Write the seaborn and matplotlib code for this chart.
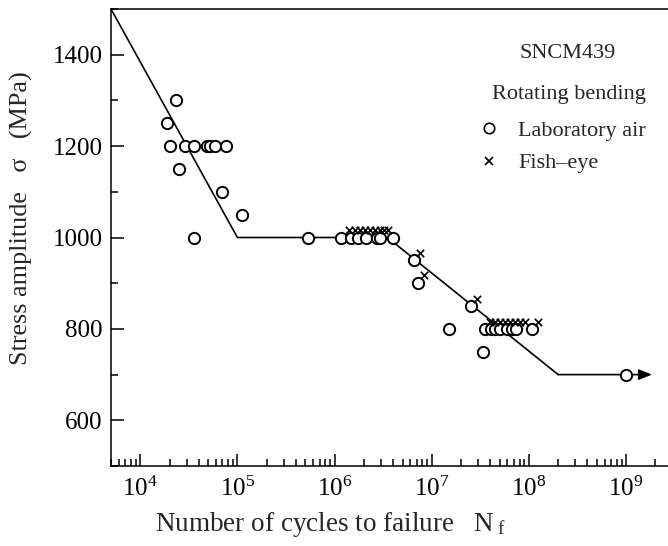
import numpy as np
import pandas as pd
import matplotlib
matplotlib.use("Agg")
import matplotlib.pyplot as plt
import seaborn as sns
from matplotlib.ticker import LogLocator, MultipleLocator, LogFormatterMathtext, NullFormatter
from matplotlib.lines import Line2D

sns.set_theme(style="ticks")
plt.rcParams["font.family"] = ["Liberation Serif", "DejaVu Serif"]
plt.rcParams["mathtext.fontset"] = "custom"
plt.rcParams["mathtext.rm"] = "Liberation Serif"
plt.rcParams["mathtext.it"] = "Liberation Serif:italic"
plt.rcParams["mathtext.bf"] = "Liberation Serif:bold"

# ---- data ----
air_cycles = [1.87e4, 2.35e4, 2.0e4, 2.9e4, 3.6e4, 4.85e4, 5.25e4, 5.9e4, 7.7e4,
              2.52e4, 6.9e4, 1.11e5, 3.6e4,
              5.3e5, 1.17e6, 1.47e6, 1.74e6, 2.11e6, 2.74e6, 2.94e6, 4.01e6,
              6.64e6, 7.3e6, 2.54e7, 1.51e7, 3.4e7,
              3.54e7, 4.08e7, 4.49e7, 5.06e7, 5.97e7, 6.72e7, 7.38e7, 1.08e8,
              1.0e9]
air_stress = [1250, 1300, 1200, 1200, 1200, 1200, 1200, 1200, 1200,
              1150, 1100, 1050, 1000,
              1000, 1000, 1000, 1000, 1000, 1000, 1000, 1000,
              950, 900, 850, 800, 750,
              800, 800, 800, 800, 800, 800, 800, 800,
              700]
fish_cycles = [1.41e6, 1.63e6, 1.83e6, 2.06e6, 2.32e6, 2.62e6, 2.94e6, 3.24e6, 3.56e6,
               7.59e6, 8.36e6, 2.91e7,
               3.99e7, 4.49e7, 5.06e7, 5.69e7, 6.41e7, 7.21e7, 8.11e7, 9.14e7, 1.24e8]
fish_stress = [1017, 1017, 1017, 1017, 1017, 1017, 1017, 1017, 1017,
               965, 917, 866,
               815, 815, 815, 815, 815, 815, 815, 815, 815]
curve_cycles = [5.0e3, 1.0e5, 3.5e6, 2.0e8, 1.85e9]
curve_stress = [1500, 1000, 1000, 700, 700]

x_ticks_major = [1e4, 1e5, 1e6, 1e7, 1e8, 1e9]
y_ticks_major = [600, 800, 1000, 1200, 1400]

air_df = pd.DataFrame({"N": air_cycles, "S": air_stress})
fish_df = pd.DataFrame({"N": fish_cycles, "S": fish_stress})
curve_df = pd.DataFrame({"N": curve_cycles, "S": curve_stress})

W, H = 668, 546
fig = plt.figure(figsize=(W / 100, H / 100), dpi=100)
left, right, top, bottom = 111, 668, 9, 466
ax = fig.add_axes([left / W, (H - bottom) / H, (right - left) / W, (bottom - top) / H])
ax.set_facecolor("white")
fig.patch.set_facecolor("white")

ax.set_xscale("log")
ax.set_xlim(5.0e3, 2.7e9)
ax.set_ylim(500, 1500)

# S-N curve (last segment ends with an arrow)
sns.lineplot(data=curve_df.iloc[:-1], x="N", y="S", sort=False, estimator=None,
             color="black", lw=1.2, ax=ax, zorder=2)
ax.annotate("", xy=(curve_cycles[-1], curve_stress[-1]),
            xytext=(curve_cycles[-2], curve_stress[-2]),
            arrowprops=dict(arrowstyle="-|>,head_length=0.4,head_width=0.16",
                            mutation_scale=20, color="black", lw=1.2,
                            shrinkA=0, shrinkB=0), zorder=2)

sns.scatterplot(data=air_df, x="N", y="S", marker="o", s=66, facecolor="white",
                edgecolor="black", linewidth=1.4, ax=ax, zorder=3)
sns.scatterplot(data=fish_df, x="N", y="S", marker="x", s=28, color="black",
                linewidth=1.2, ax=ax, zorder=4)

# axes styling
for sp in ["left", "bottom", "top"]:
    ax.spines[sp].set_linewidth(1.1)
    ax.spines[sp].set_color("black")
ax.spines["right"].set_visible(False)

ax.set_xticks(x_ticks_major)
ax.xaxis.set_major_formatter(LogFormatterMathtext())
ax.xaxis.set_minor_locator(LogLocator(base=10, subs=np.arange(2, 10), numticks=20))
ax.xaxis.set_minor_formatter(NullFormatter())
ax.set_yticks(y_ticks_major)
ax.yaxis.set_minor_locator(MultipleLocator(100))
ax.tick_params(which="both", direction="in", top=False, right=False, colors="black",
               width=1.1, labelsize=18)
ax.tick_params(which="major", length=9)
ax.tick_params(which="minor", length=5)
ax.tick_params(axis="x", which="major", pad=8)
ax.tick_params(axis="y", which="major", pad=6)

ax.set_xlabel(r"Number of cycles to failure   N$_{\ \mathrm{f}}$", fontsize=19.5)
ax.set_ylabel("Stress amplitude   σ   (MPa)", fontsize=18.8)
ax.xaxis.set_label_coords(0.395, -0.097)
ax.yaxis.set_label_coords(-0.16, 0.543)
ax.xaxis.label.set_va("top")
ax.yaxis.label.set_va("center")

fig.text(567.5 / W, 1 - 58.3 / H, "SNCM439", ha="center", va="baseline", fontsize=16)
fig.text(569 / W, 1 - 99.3 / H, "Rotating bending", ha="center", va="baseline", fontsize=16)

handles = [Line2D([], [], marker="o", ls="", mfc="white", mec="black", mew=1.2, ms=7.5),
           Line2D([], [], marker="x", ls="", color="black", mew=1.2, ms=6)]
ax.legend(handles, ["Laboratory air", "Fish\u2013eye"], loc="upper left",
          bbox_to_anchor=(478 / W, 1 - 120 / H), bbox_transform=fig.transFigure,
          frameon=False, fontsize=16, handlelength=1.0, handletextpad=0.8,
          labelspacing=0.55, borderpad=0, borderaxespad=0)

fig.savefig("out.png", dpi=100)
